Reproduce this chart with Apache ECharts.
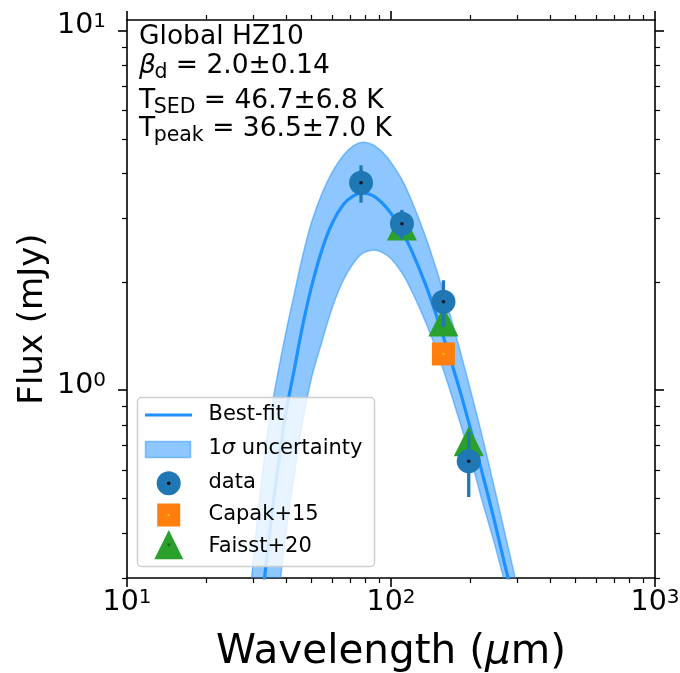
<!DOCTYPE html>
<html><head><meta charset="utf-8">
<script src="https://cdn.jsdelivr.net/npm/echarts@6/dist/echarts.min.js"></script>
<style>html,body{margin:0;padding:0;background:#fff}#c{width:680px;height:673px}</style>
</head><body><div id="c"></div>
<script>
// ---- data ----
const fitWave  = [28, 30, 32, 34, 36, 38, 40, 43, 46, 50, 55, 60, 66, 72, 78, 85, 92, 100, 110, 120, 135, 150, 165, 180, 200, 220, 245, 270, 300, 330];
const fitBest  = [0.080, 0.143, 0.233, 0.352, 0.499, 0.672, 0.868, 1.14, 1.48, 1.94, 2.48, 2.92, 3.28, 3.47, 3.53, 3.48, 3.33, 3.10, 2.77, 2.43, 1.97, 1.58, 1.27, 1.03, 0.78, 0.60, 0.44, 0.326, 0.24, 0.175];
const fitUpper = [0.18, 0.33, 0.52, 0.75, 0.97, 1.20, 1.45, 1.85, 2.32, 2.93, 3.55, 4.05, 4.50, 4.78, 4.89, 4.82, 4.62, 4.30, 3.85, 3.35, 2.68, 2.12, 1.68, 1.34, 1.00, 0.76, 0.545, 0.40, 0.285, 0.20];
const fitLower = [0.02, 0.045, 0.08, 0.13, 0.19, 0.29, 0.40, 0.58, 0.80, 1.08, 1.38, 1.70, 2.02, 2.25, 2.40, 2.45, 2.42, 2.32, 2.12, 1.88, 1.55, 1.27, 1.03, 0.84, 0.65, 0.50, 0.38, 0.29, 0.215, 0.16];

const dataWave = [77, 110, 158, 197];
const dataFlux = [3.77, 2.90, 1.76, 0.634];
const dataErr  = [0.45, 0.27, 0.26, 0.13];

const capakWave = [158];
const capakFlux = [1.26];

const faisstWave = [110, 158, 197];
const faisstFlux = [2.87, 1.55, 0.72];

const xMajorTicks = [10, 100, 1000];
const xMinorTicks = [20, 30, 40, 50, 60, 70, 80, 90, 200, 300, 400, 500, 600, 700, 800, 900];
const yMajorTicks = [1, 10];
const yMinorTicks = [0.3, 0.4, 0.5, 0.6, 0.7, 0.8, 0.9, 2, 3, 4, 5, 6, 7, 8, 9];

const legendNames = ['Best-fit', '1σ uncertainty', 'data', 'Capak+15', 'Faisst+20'];

// ---- chart ----
const FONT = 'DejaVu Sans';
const chart = echarts.init(document.getElementById('c'), null, {renderer: 'canvas', width: 680, height: 673});

const C_FIT = '#1e90ff';
const C_BAND = 'rgba(30,144,255,0.5)';
const C_DATA = '#1f77b4';
const C_CAPAK = '#ff7f0e';
const C_FAISST = '#2ca02c';

function supLabel(v) {
  const e = Math.round(Math.log10(v));
  return '{b|10}{s|' + e + '}';
}
const labelRich = {
  b: {fontFamily: FONT, fontSize: 28.5, color: '#000', lineHeight: 38, verticalAlign: 'top'},
  s: {fontFamily: FONT, fontSize: 20, color: '#000', lineHeight: 20, verticalAlign: 'top'}
};

function mkAxis(kind, pos, ticks, major, showLine, extra) {
  const base = {
    type: 'log', logBase: 10, position: pos, gridIndex: 0,
    min: kind === 'x' ? 10 : 0.3,
    max: kind === 'x' ? 1000 : 10.7,
    axisLine: {show: showLine, onZero: false, lineStyle: {color: '#000', width: 1.6}},
    axisTick: {show: true, inside: false, length: major ? 9 : 5, customValues: ticks,
               lineStyle: {color: '#000', width: major ? 1.6 : 1.2}},
    axisLabel: {show: false},
    splitLine: {show: false},
    minorTick: {show: false},
    minorSplitLine: {show: false},
    silent: true
  };
  return Object.assign(base, extra || {});
}

const xAxes = [
  mkAxis('x', 'bottom', xMajorTicks, true, true, {
    axisLabel: {show: true, customValues: xMajorTicks, margin: 10, formatter: supLabel, rich: labelRich},
    name: '{n|Wavelength (}{i|μ}{n|m)}',
    nameLocation: 'middle', nameGap: 54, nameMoveOverlap: false,
    nameTextStyle: {rich: {
      n: {fontFamily: FONT, fontSize: 40.5, color: '#000'},
      i: {fontFamily: FONT, fontSize: 40.5, fontStyle: 'italic', color: '#000'}
    }}
  }),
  mkAxis('x', 'bottom', xMinorTicks, false, false),
  mkAxis('x', 'top', xMajorTicks, true, true),
  mkAxis('x', 'top', xMinorTicks, false, false)
];
const yAxes = [
  mkAxis('y', 'left', yMajorTicks, true, true, {
    axisLabel: {show: true, customValues: yMajorTicks, margin: 21, formatter: supLabel, rich: labelRich},
    name: 'Flux (mJy)', nameLocation: 'middle', nameGap: 77, nameMoveOverlap: false,
    nameTextStyle: {fontFamily: FONT, fontSize: 34, color: '#000', padding: [0, 40, 0, 0]}
  }),
  mkAxis('y', 'left', yMinorTicks, false, false),
  mkAxis('y', 'right', yMajorTicks, true, true),
  mkAxis('y', 'right', yMinorTicks, false, false)
];

const series = [
  {name: legendNames[1], type: 'custom', z: 1, clip: true,
   encode: {x: 0, y: 1},
   data: [[fitWave[0], fitUpper[0]]],
   renderItem: function (params, api) {
     const up = fitWave.map((w, i) => api.coord([w, fitUpper[i]]));
     const lo = fitWave.map((w, i) => api.coord([w, fitLower[i]]));
     const poly = up.concat(lo.slice().reverse());
     return {type: 'group', children: [
       {type: 'polygon', shape: {points: poly, smooth: 0.3}, style: {fill: C_BAND}},
       {type: 'polyline', shape: {points: up, smooth: 0.3}, style: {stroke: C_BAND, lineWidth: 1.5, fill: null}},
       {type: 'polyline', shape: {points: lo, smooth: 0.3}, style: {stroke: C_BAND, lineWidth: 1.5, fill: null}}
     ]};
   }},
  {name: legendNames[0], type: 'line', smooth: 0.3, symbol: 'none', z: 3,
   lineStyle: {color: C_FIT, width: 3.2}, data: fitWave.map((w, i) => [w, fitBest[i]])},
  {name: legendNames[4], type: 'scatter', symbol: 'triangle', symbolSize: [30, 30], z: 4,
   itemStyle: {color: C_FAISST, opacity: 1}, data: faisstWave.map((w, i) => [w, faisstFlux[i]])},
  {name: 'faisstDot', type: 'scatter', symbol: 'triangle', symbolRotate: 180, symbolSize: 4, z: 4,
   itemStyle: {color: '#1b6a1b'}, data: faisstWave.map((w, i) => [w, faisstFlux[i]])},
  {name: legendNames[3], type: 'scatter', symbol: 'rect', symbolSize: 23, z: 4,
   itemStyle: {color: C_CAPAK, opacity: 1}, data: capakWave.map((w, i) => [w, capakFlux[i]])},
  {name: 'capakDot', type: 'scatter', symbol: 'circle', symbolSize: 2.5, z: 4,
   itemStyle: {color: '#ffc400'}, data: capakWave.map((w, i) => [w, capakFlux[i]])},
  {name: 'errbars', type: 'custom', z: 5,
   encode: {x: 0, y: 1},
   data: dataWave.map((w, i) => [w, dataFlux[i], dataErr[i]]),
   renderItem: function (params, api) {
     const x = api.value(0), y = api.value(1), e = api.value(2);
     const p1 = api.coord([x, y + e]);
     const p2 = api.coord([x, y - e]);
     return {type: 'line', shape: {x1: p1[0], y1: p1[1], x2: p2[0], y2: p2[1]},
             style: {stroke: C_DATA, lineWidth: 3.3}};
   }},
  {name: legendNames[2], type: 'scatter', symbol: 'circle', symbolSize: 24, z: 6,
   itemStyle: {color: C_DATA, opacity: 1}, data: dataWave.map((w, i) => [w, dataFlux[i]])},
  {name: 'dataDot', type: 'scatter', symbol: 'circle', symbolSize: 3.5, z: 7,
   itemStyle: {color: '#000'}, data: dataWave.map((w, i) => [w, dataFlux[i]])}
];

// ---- annotation text with sub-scripts (measured with canvas) ----
const mctx = document.createElement('canvas').getContext('2d');
function tw(text, size, italic) {
  mctx.font = (italic ? 'italic ' : '') + size + 'px "DejaVu Sans"';
  return mctx.measureText(text).width;
}
const AF = 26.5, SF = 20.5;
const annLines = [
  {c: 37.5, segs: [['Global HZ10', 0, 0]]},
  {c: 66.5, segs: [['β', 0, 1], ['d', 1, 0], [' = 2.0±0.14', 0, 0]]},
  {c: 101.3, segs: [['T', 0, 0], ['SED', 1, 0], [' = 46.7±6.8 K', 0, 0]]},
  {c: 129, segs: [['T', 0, 0], ['peak', 1, 0], [' = 36.5±7.0 K', 0, 0]]}
];
const graphic = [];
annLines.forEach(function (ln) {
  let x = 139;
  ln.segs.forEach(function (sg) {
    const isSub = sg[1] === 1, it = sg[2] === 1;
    const fs = isSub ? SF : AF;
    if (isSub) x -= 1.5;
    graphic.push({type: 'text', x: x, y: isSub ? ln.c + 6.5 : ln.c, z: 100,
      style: {text: sg[0], font: (it ? 'italic ' : '') + fs + 'px "DejaVu Sans"', fill: '#000', verticalAlign: 'middle'}});
    x += tw(sg[0], fs, it);
  });
});

const legRich = {
  m: {fontFamily: FONT, fontSize: 21, color: '#000'},
  i: {fontFamily: FONT, fontSize: 21, fontStyle: 'italic', color: '#000'}
};
graphic.push(
  {type: 'rect', z: 100, shape: {x: 137.5, y: 397.5, width: 237, height: 169, r: 4},
   style: {fill: 'rgba(255,255,255,0.8)', stroke: '#cfcfcf', lineWidth: 1.5}},
  {type: 'line', z: 101, shape: {x1: 145, y1: 415, x2: 192, y2: 415},
   style: {stroke: C_FIT, lineWidth: 3.2}},
  {type: 'rect', z: 101, shape: {x: 145.5, y: 441.5, width: 45, height: 16},
   style: {fill: C_BAND, stroke: C_BAND, lineWidth: 1.5}},
  {type: 'circle', z: 101, shape: {cx: 168.7, cy: 483.3, r: 12}, style: {fill: C_DATA}},
  {type: 'circle', z: 102, shape: {cx: 168.7, cy: 483.3, r: 1.7}, style: {fill: '#000'}},
  {type: 'rect', z: 101, shape: {x: 157.2, y: 503.5, width: 23, height: 23}, style: {fill: C_CAPAK}},
  {type: 'circle', z: 102, shape: {cx: 168.7, cy: 515, r: 1.2}, style: {fill: '#ffc400'}},
  {type: 'polygon', z: 101, shape: {points: [[168.8, 530], [154.3, 559.3], [183.3, 559.3]]}, style: {fill: C_FAISST}},
  {type: 'polygon', z: 102, shape: {points: [[166.8, 543.5], [170.8, 543.5], [168.8, 547]]}, style: {fill: '#1b6a1b'}},
  {type: 'text', x: 208.5, y: 415, z: 101, style: {text: '{m|' + legendNames[0] + '}', rich: legRich, verticalAlign: 'middle'}},
  {type: 'text', x: 208.5, y: 449, z: 101, style: {text: '{m|1}{i|σ}{m| uncertainty}', rich: legRich, verticalAlign: 'middle'}},
  {type: 'text', x: 208.5, y: 483, z: 101, style: {text: '{m|' + legendNames[2] + '}', rich: legRich, verticalAlign: 'middle'}},
  {type: 'text', x: 208.5, y: 515, z: 101, style: {text: '{m|' + legendNames[3] + '}', rich: legRich, verticalAlign: 'middle'}},
  {type: 'text', x: 208.5, y: 546.5, z: 101, style: {text: '{m|' + legendNames[4] + '}', rich: legRich, verticalAlign: 'middle'}}
);

chart.setOption({
  animation: false,
  backgroundColor: '#fff',
  grid: {left: 127, top: 20, width: 528, height: 558, containLabel: false, outerBoundsMode: 'none'},
  xAxis: xAxes,
  yAxis: yAxes,
  series: series,
  graphic: graphic
});
</script>
</body></html>
